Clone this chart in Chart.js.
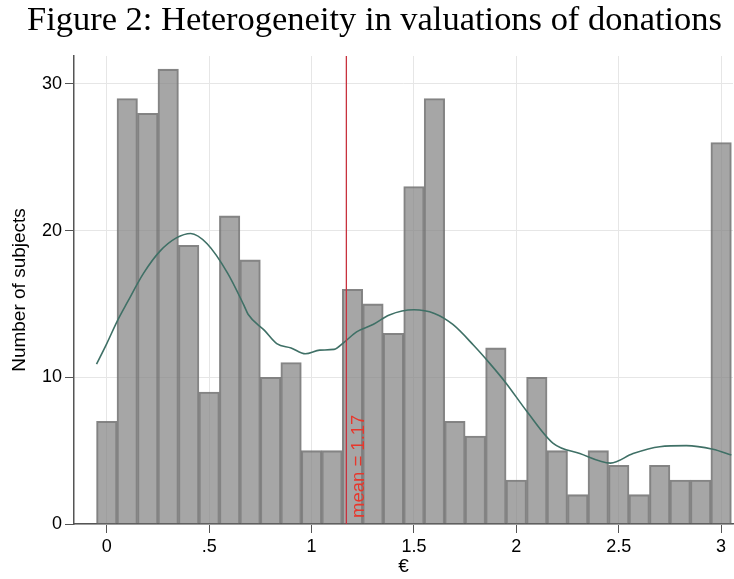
<!DOCTYPE html>
<html>
<head>
<meta charset="utf-8">
<script src="https://cdn.jsdelivr.net/npm/chart.js@4.4.1/dist/chart.umd.min.js"></script>
<style>
  html, body { margin: 0; padding: 0; background: #ffffff; }
  #wrap { width: 734px; height: 579px; }
</style>
</head>
<body>
<div id="wrap"><canvas id="c" width="734" height="579"></canvas></div>
<script>
// ---- data ----
const titleText = "Figure 2: Heterogeneity in valuations of donations";
const xAxisTitle = "€";
const yAxisTitle = "Number of subjects";
const binCenters = [0, 0.1, 0.2, 0.3, 0.4, 0.5, 0.6, 0.7, 0.8, 0.9, 1.0, 1.1, 1.2, 1.3, 1.4, 1.5, 1.6, 1.7, 1.8, 1.9, 2.0, 2.1, 2.2, 2.3, 2.4, 2.5, 2.6, 2.7, 2.8, 2.9, 3.0];
const binCounts  = [7, 29, 28, 31, 19, 9, 21, 18, 10, 11, 5, 5, 16, 15, 13, 23, 29, 7, 6, 12, 3, 10, 5, 2, 5, 4, 2, 4, 3, 3, 26];
const kdeX = [-0.05, 0, 0.05, 0.1, 0.18, 0.26, 0.34, 0.41, 0.49, 0.59, 0.67, 0.69, 0.77, 0.83, 0.9, 0.97, 1.04, 1.11, 1.16, 1.22, 1.30, 1.38, 1.50, 1.60, 1.69, 1.79, 1.87, 1.95, 2.05, 2.18, 2.31, 2.46, 2.57, 2.70, 2.83, 2.96, 3.05];
const kdeY = [10.9, 12.3, 13.8, 15.1, 17.1, 18.6, 19.5, 19.8, 19.1, 17.1, 14.9, 14.3, 13.2, 12.3, 12.0, 11.6, 11.85, 11.9, 12.4, 13.1, 13.6, 14.25, 14.6, 14.35, 13.6, 12.2, 10.95, 9.6, 7.7, 5.5, 4.8, 4.15, 4.8, 5.27, 5.34, 5.09, 4.7];
const meanValue = 1.17;
const meanLabel = "mean = 1.17";
const xTickValues = [0, 0.5, 1, 1.5, 2, 2.5, 3];
const xTickLabels = ["0", ".5", "1", "1.5", "2", "2.5", "3"];
const yTickValues = [0, 10, 20, 30];
const yTickLabels = ["0", "10", "20", "30"];

// ---- plugins ----
const meanLinePlugin = {
  id: 'meanLine',
  afterDatasetsDraw(chart) {
    const {ctx, chartArea, scales} = chart;
    const px = scales.x.getPixelForValue(meanValue);
    ctx.save();
    ctx.strokeStyle = '#c8323e';
    ctx.lineWidth = 1.3;
    ctx.beginPath();
    ctx.moveTo(px, chartArea.top);
    ctx.lineTo(px, chartArea.bottom);
    ctx.stroke();
    ctx.translate(px + 17.5, chartArea.bottom - 6);
    ctx.rotate(-Math.PI / 2);
    ctx.fillStyle = '#e8372c';
    ctx.font = '18.5px "Liberation Sans", Arial, sans-serif';
    ctx.textAlign = 'left';
    ctx.textBaseline = 'alphabetic';
    ctx.fillText(meanLabel, 0, 0);
    ctx.restore();
  }
};
const titlePlugin = {
  id: 'serifTitle',
  afterDraw(chart) {
    const ctx = chart.ctx;
    ctx.save();
    ctx.font = '33px "Liberation Serif", "DejaVu Serif", serif';
    ctx.fillStyle = '#000';
    ctx.textBaseline = 'alphabetic';
    ctx.textAlign = 'center';
    const w = ctx.measureText(titleText).width;
    const target = 695;
    ctx.translate(374.5, 30);
    ctx.scale(target / w, 1);
    ctx.fillText(titleText, 0, 0);
    ctx.restore();
  }
};

const axisColor = '#555555';
const gridColor = '#e6e6e6';
const tickFont = { family: '"Liberation Sans", Arial, sans-serif', size: 18 };
const titleFont = { family: '"Liberation Sans", Arial, sans-serif', size: 19 };

new Chart(document.getElementById('c'), {
  data: {
    datasets: [
      {
        type: 'line',
        data: kdeX.map((x, i) => ({ x, y: kdeY[i] })),
        borderColor: '#3f7066',
        borderWidth: 1.6,
        pointRadius: 0,
        fill: false,
        cubicInterpolationMode: 'monotone',
        order: 0
      },
      {
        type: 'bar',
        data: binCenters.map((x, i) => ({ x, y: binCounts[i] })),
        backgroundColor: 'rgba(128,128,128,0.70)',
        borderColor: 'rgba(112,112,112,0.85)',
        borderWidth: 1.4,
        borderSkipped: 'start',
        barPercentage: 1.0,
        categoryPercentage: 1.0,
        order: 1
      }
    ]
  },
  options: {
    responsive: false,
    animation: false,
    devicePixelRatio: 1,
    layout: { padding: { top: 56, right: 1, left: 0, bottom: 0 } },
    plugins: { legend: { display: false }, tooltip: { enabled: false }, title: { display: false } },
    scales: {
      x: {
        type: 'linear',
        offset: false,
        min: -0.16,
        max: 3.058,
        afterBuildTicks: s => { s.ticks = xTickValues.map(v => ({ value: v })); },
        afterFit: s => { s.height = 55; },
        ticks: {
          font: tickFont, color: '#000', padding: 3, maxRotation: 0, autoSkip: false,
          callback: (v) => { const i = xTickValues.indexOf(v); return i >= 0 ? xTickLabels[i] : ''; }
        },
        grid: { offset: false, color: gridColor, lineWidth: 1, tickColor: axisColor, tickLength: 9, drawTicks: true },
        border: { color: axisColor, width: 1.5 },
        title: { display: true, text: xAxisTitle, font: titleFont, color: '#000', padding: { top: 0, bottom: 1 } }
      },
      y: {
        type: 'linear',
        min: 0,
        max: 31.9,
        afterBuildTicks: s => { s.ticks = yTickValues.map(v => ({ value: v })); },
        afterFit: s => { s.width = 74; },
        ticks: {
          font: tickFont, color: '#000', padding: 3,
          callback: (v) => { const i = yTickValues.indexOf(v); return i >= 0 ? yTickLabels[i] : ''; }
        },
        grid: { color: gridColor, lineWidth: 1, tickColor: axisColor, tickLength: 9, drawTicks: true },
        border: { color: axisColor, width: 1.5 },
        title: { display: true, text: yAxisTitle, font: titleFont, color: '#000', padding: { top: 8, bottom: 0 } }
      }
    }
  },
  plugins: [meanLinePlugin, titlePlugin]
});
</script>
</body>
</html>
